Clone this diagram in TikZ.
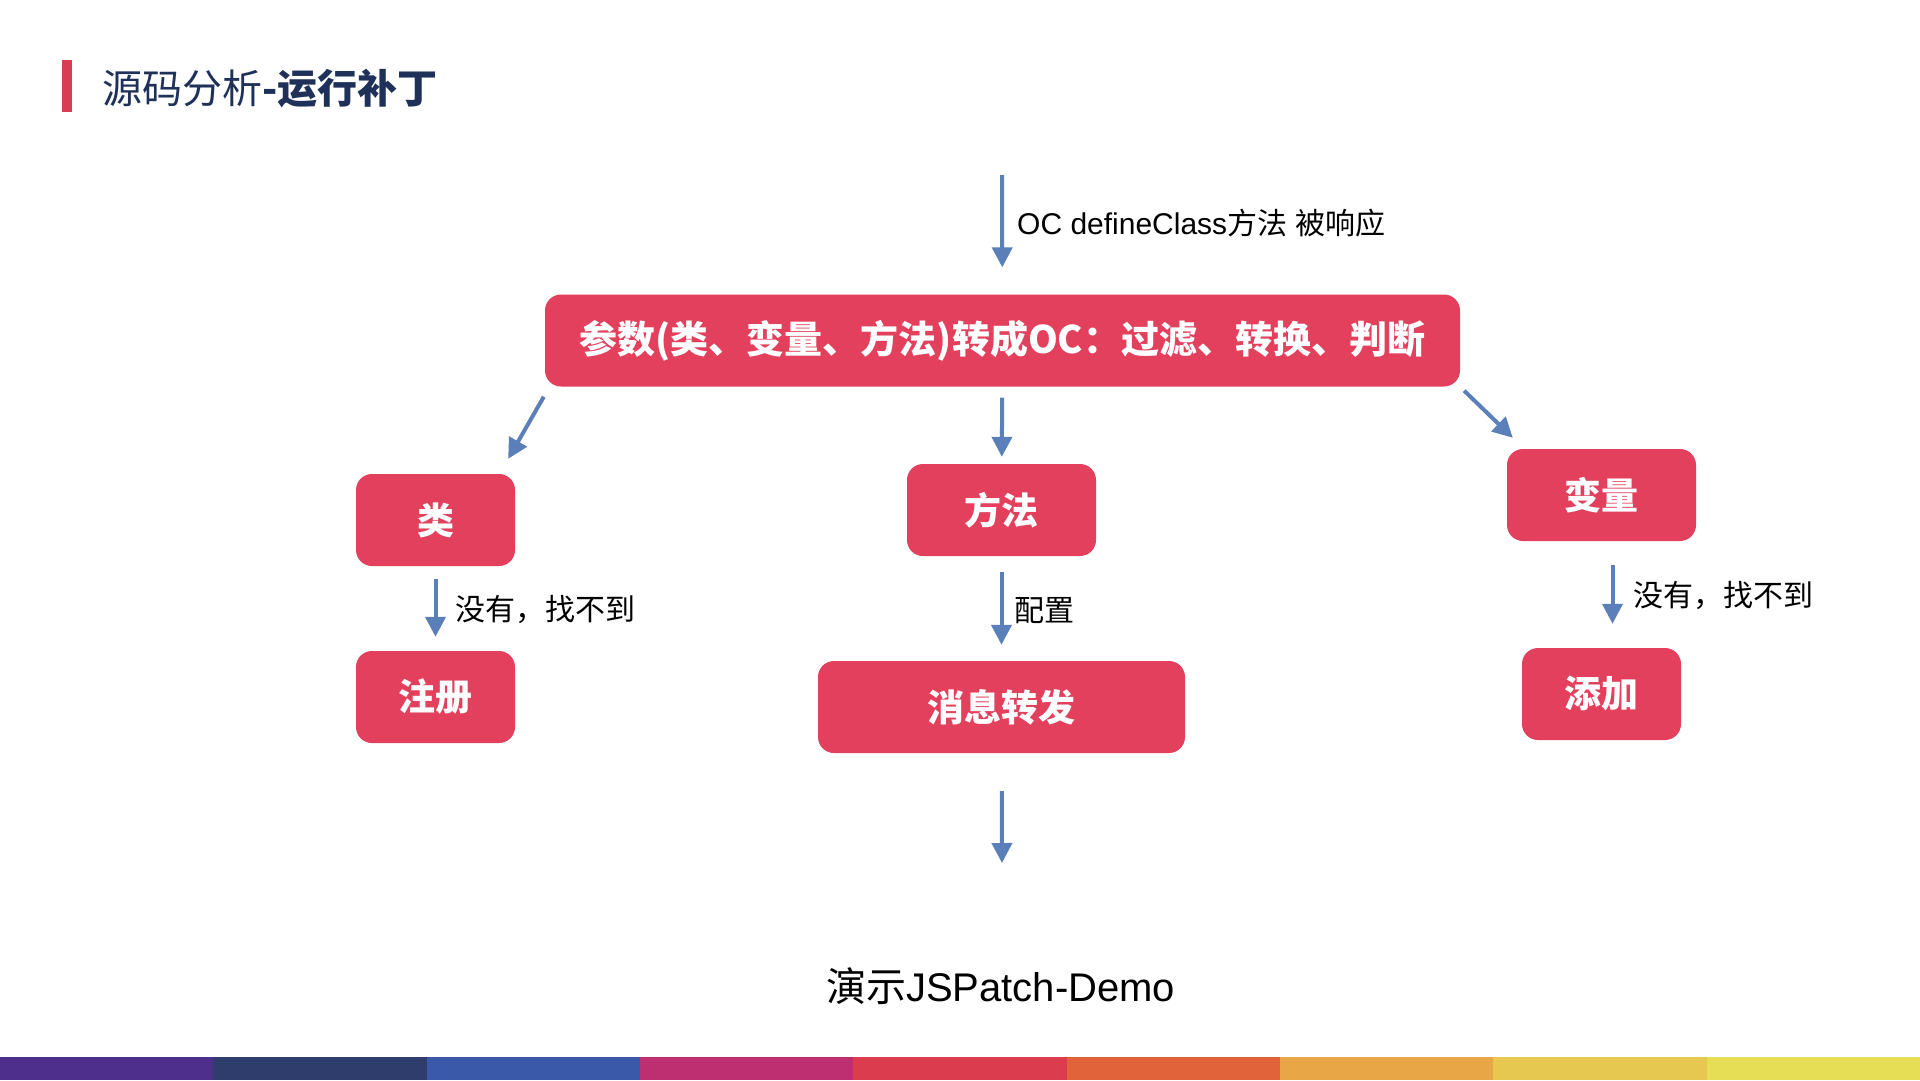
\documentclass[tikz,border=0pt]{standalone}
\usepackage{fontspec}
\setmainfont{Liberation Sans}
\newfontfamily\cjk{Noto Sans CJK SC}
\usetikzlibrary{arrows.meta,calc}

\definecolor{boxred}{HTML}{E2405C}
\definecolor{titlered}{HTML}{D93D52}
\definecolor{titlenavy}{HTML}{1F3158}
\definecolor{arrowblue}{HTML}{5A7FB9}
\definecolor{barA}{HTML}{4F2F8C}
\definecolor{barB}{HTML}{2E3D6B}
\definecolor{barC}{HTML}{3A59A8}
\definecolor{barD}{HTML}{BE2F72}
\definecolor{barE}{HTML}{DB3C4E}
\definecolor{barF}{HTML}{E0633A}
\definecolor{barG}{HTML}{E8A646}
\definecolor{barH}{HTML}{E6C750}
\definecolor{barI}{HTML}{E6DF56}

\begin{document}
\begin{tikzpicture}[x=1pt,y=-1pt,
  flowbox/.style={draw=none, fill=boxred, rounded corners=16pt, text=white,
    font=\cjk\bfseries\fontsize{37}{40}\selectfont, inner sep=0pt,
    minimum height=92pt},
  flowarrow/.style={draw=arrowblue, line width=4pt,
    -{Triangle[width=20pt,length=20pt]}},
  note/.style={anchor=base west, inner sep=0pt, text=black,
    font=\fontsize{30}{32}\selectfont}]

% page
\useasboundingbox (0,0) rectangle (1920,1080);
\fill[white] (0,0) rectangle (1920,1080);

% heading
\fill[titlered] (62,60) rectangle (72,112);
\node[anchor=base west, inner sep=0pt, text=titlenavy,
  font=\cjk\fontsize{40}{44}\selectfont] (title) at (102,103)
  {源码分析\textbf{-运行补丁}};

% boxes
\node[flowbox, minimum width=915pt, font=\cjk\bfseries\fontsize{38}{42}\selectfont]
  (main) at (1002.5,340.5) {参数(类、变量、方法)转成OC：过滤、转换、判断};
\node[flowbox, minimum width=159pt] (cls) at (435.5,520) {类};
\node[flowbox, minimum width=159pt] (reg) at (435.5,697) {注册};
\node[flowbox, minimum width=189pt] (meth) at (1001.5,510) {方法};
\node[flowbox, minimum width=367pt] (msg) at (1001.5,707) {消息转发};
\node[flowbox, minimum width=189pt] (var) at (1601.5,495) {变量};
\node[flowbox, minimum width=159pt] (add) at (1601.5,694) {添加};

% free ends
\coordinate (in) at (1002,175);
\coordinate (out) at (1002,863);

% connectors
\draw[flowarrow, shorten >=27pt] (in) -- (main);
\draw[flowarrow] ($(main.south west)+(-1,10)$) -- ($(cls.north east)+(-7,-15)$);
\draw[flowarrow, shorten <=11pt, shorten >=7pt] (main) -- (meth);
\draw[flowarrow] ($(main.south east)+(4,4)$) -- ($(var.north west)+(6,-11)$);
\draw[flowarrow, shorten <=13pt, shorten >=14pt] (cls) -- (reg);
\draw[flowarrow, shorten <=16pt, shorten >=16pt] (meth) -- (msg);
\draw[flowarrow, shorten <=24pt, shorten >=24pt] ($(var.south)+(11,0)$) -- ($(add.north)+(11,0)$);
\draw[flowarrow, shorten <=38pt] (msg) -- (out);

% connector labels
\node[note] (lin) at (1017,234) {OC defineClass{\cjk 方法} {\cjk 被响应}};
\node[note] (lcls) at (455,620) {{\cjk 没有，找不到}};
\node[note] (lmeth) at (1014,621) {{\cjk 配置}};
\node[note] (lvar) at (1633,606) {{\cjk 没有，找不到}};

% closing line
\node[anchor=base west, inner sep=0pt, text=black,
  font=\fontsize{40}{44}\selectfont] (demo) at (826,1001)
  {{\cjk 演示}JSPatch-Demo};

% colour strip
\foreach \c [count=\i from 0] in {barA,barB,barC,barD,barE,barF,barG,barH,barI}
  \fill[\c] ({\i*213.333},1057) rectangle ({(\i+1)*213.333+0.5},1080);
\end{tikzpicture}
\end{document}
